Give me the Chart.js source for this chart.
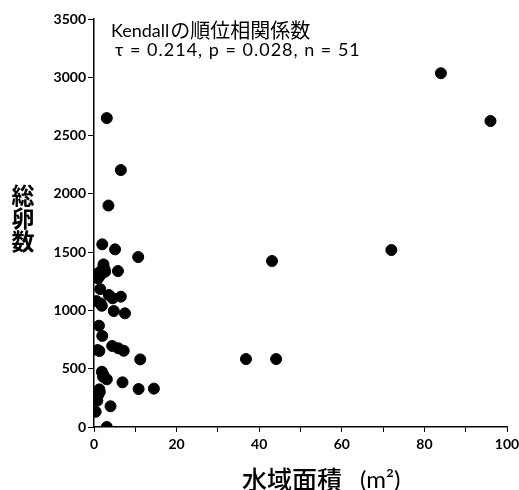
<!DOCTYPE html>
<html>
<head>
<meta charset="utf-8">
<script src="https://cdn.jsdelivr.net/npm/chart.js@4"></script>
<style>
  html, body { margin: 0; padding: 0; background: #fff; }
  #wrap { width: 519px; height: 490px; }
</style>
</head>
<body>
<div id="wrap"><canvas id="chart" width="519" height="490"></canvas></div>
<script>
// 水域面積 (m2) and 総卵数
const areaValues = [
  84, 96, 72, 43.1, 36.8, 44.1,
  3.1, 6.5, 3.5, 2.0, 5.1, 10.7, 2.3, 1.9, 2.7, 5.8, 1.0, 1.0, 1.5,
  3.6, 4.5, 6.5, 0.6, 1.9, 4.8, 7.5, 1.2, 2.0, 4.4, 5.9, 7.2, 1.3,
  11.2, 1.9, 2.3, 3.1, 6.9, 10.8, 14.5, 1.3, 1.0, 0.8, 4.0, 0.4, 3.1,
  1.5, 2.6, 1.6, 0.9, 2.2, 1.4
];
const eggValues = [
  3035, 2625, 1518, 1424, 583, 583,
  2650, 2204, 1900, 1567, 1524, 1458, 1395, 1346, 1332, 1338, 1318, 1275, 1183,
  1132, 1104, 1118, 1080, 1040, 995, 975, 869, 781, 695, 675, 654, 652,
  580, 474, 446, 409, 383, 326, 329, 323, 274, 226, 178, 131, 0,
  1300, 1350, 1060, 660, 430, 300
];
const statTitle = ['Kendall', 'の順位相関係数'];
const statLine = 'τ = 0.214, p = 0.028, n = 51';
const yTitleChars = ['総', '卵', '数'];
const xTitle = ['水域面積', '(m²)'];

const points = areaValues.map((x, i) => ({ x: x, y: eggValues[i] }));

const numFont = { family: 'Lato, "DejaVu Sans", sans-serif', size: 14, weight: 'bold' };
const jpFont = '"Noto Sans CJK JP", sans-serif';

const textPlugin = {
  id: 'textPlugin',
  afterDraw(chart) {
    const ctx = chart.ctx;
    ctx.save();
    ctx.fillStyle = '#000';
    ctx.textBaseline = 'middle';
    ctx.textAlign = 'left';
    // stats box
    ctx.font = '18px Lato, sans-serif';
    ctx.fillText(statTitle[0], 111, 31);
    const w = ctx.measureText(statTitle[0]).width;
    ctx.font = '20px ' + jpFont;
    ctx.fillText(statTitle[1], 111 + w + 1, 30);
    ctx.font = '18px Lato, sans-serif';
    ctx.letterSpacing = '1px';
    ctx.fillText(statLine, 115, 50);
    ctx.letterSpacing = '0px';
    // x title
    ctx.font = '500 25px ' + jpFont;
    ctx.fillText(xTitle[0], 242, 479);
    ctx.font = '24px Lato, sans-serif';
    ctx.fillText(xTitle[1], 360, 480);
    // y title, stacked
    ctx.textAlign = 'center';
    ctx.font = 'bold 23px ' + jpFont;
    yTitleChars.forEach((c, i) => ctx.fillText(c, 23, 195 + i * 23));
    ctx.restore();
  }
};

new Chart(document.getElementById('chart'), {
  type: 'scatter',
  data: {
    datasets: [{
      data: points,
      backgroundColor: '#000',
      borderColor: '#000',
      pointRadius: 5.5,
      pointHoverRadius: 5.5
    }]
  },
  options: {
    responsive: false,
    animation: false,
    devicePixelRatio: 1,
    layout: { padding: { top: 19, right: 0, left: 40, bottom: 0 } },
    plugins: { legend: { display: false }, tooltip: { enabled: false } },
    scales: {
      x: {
        type: 'linear',
        min: 0,
        max: 100,
        afterFit(s) { s.height = 63; s.paddingRight = 12; s.paddingLeft = 0; },
        ticks: {
          stepSize: 10,
          color: '#000',
          font: numFont,
          padding: 4,
          maxRotation: 0,
          callback: (v) => (v % 20 === 0 ? String(v) : '')
        },
        grid: { display: true, drawOnChartArea: false, tickLength: 5, color: '#000', lineWidth: 1 },
        border: { color: '#000', width: 1.5 }
      },
      y: {
        type: 'linear',
        min: 0,
        max: 3500,
        afterFit(s) { s.width = 54; },
        ticks: { stepSize: 500, color: '#000', font: numFont, padding: 2, callback: (v) => String(v) },
        grid: { display: true, drawOnChartArea: false, tickLength: 6, color: '#000', lineWidth: 1 },
        border: { color: '#000', width: 1.5 }
      }
    }
  },
  plugins: [textPlugin]
});
</script>
</body>
</html>
